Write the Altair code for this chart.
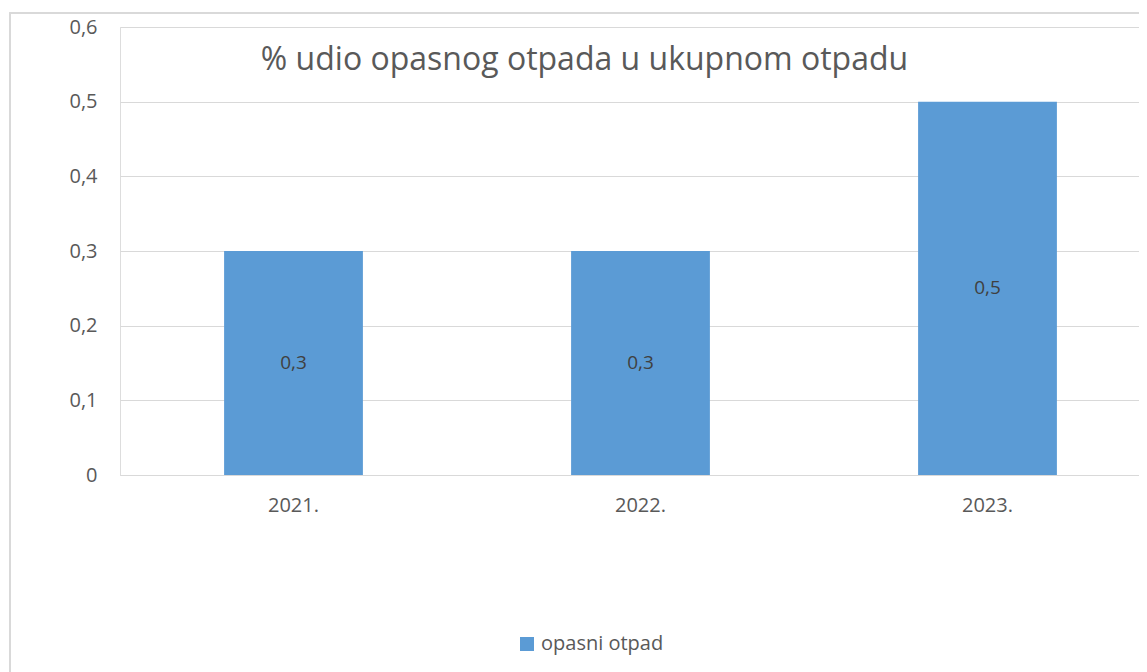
import altair as alt
import pandas as pd

years = ["2021.", "2022.", "2023."]
values = [0.3, 0.3, 0.5]
series = ["opasni otpad", "opasni otpad", "opasni otpad"]

df = pd.DataFrame({"year": years, "value": values, "series": series})

FONT = "Open Sans"
GRAY = "#595959"

x_enc = alt.X(
    "year:N",
    sort=years,
    scale=alt.Scale(paddingInner=0.6, paddingOuter=0.3, range=[0, 1041]),
    axis=alt.Axis(
        title=None, labelAngle=0, ticks=False, domain=True, domainColor="#d9d9d9",
        labelPadding=20, labelFontSize=20, labelColor=GRAY, labelFont=FONT, grid=False,
    ),
)

base = alt.Chart(df)

bars = base.mark_bar(color="#5B9BD5").encode(
    x=x_enc,
    y=alt.Y(
        "value:Q",
        scale=alt.Scale(domain=[0, 0.6], nice=False),
        axis=alt.Axis(
            title=None, values=[0, 0.1, 0.2, 0.3, 0.4, 0.5, 0.6], ticks=False, domain=False,
            gridColor="#d9d9d9", gridWidth=1, labelPadding=23, labelFontSize=20,
            labelColor=GRAY, labelFont=FONT,
            labelExpr="datum.value == 0 ? '0' : replace(format(datum.value, '.1f'), '.', ',')",
        ),
    ),
    color=alt.Color(
        "series:N",
        scale=alt.Scale(range=["#5B9BD5"]),
        legend=alt.Legend(
            title=None, orient="none", legendX=397, legendY=607, symbolType="square",
            symbolSize=196, symbolStrokeWidth=0, labelFontSize=20, labelColor=GRAY,
            labelFont=FONT, labelOffset=4,
        ),
    ),
)

labels = base.transform_calculate(
    mid="datum.value / 2",
    txt="replace(format(datum.value, '.1f'), '.', ',')",
).mark_text(font=FONT, fontSize=19, color="#404040", baseline="middle").encode(
    x=alt.X("year:N", sort=years),
    y=alt.Y("mid:Q"),
    text="txt:N",
)

border = base.mark_rect(fill=None, stroke="#d9d9d9", strokeWidth=1.5).encode(
    x=alt.value(-110), x2=alt.value(1300), y=alt.value(-14), y2=alt.value(900)
)

chart = (
    alt.layer(bars, labels, border)
    .properties(
        width=1019,
        height=448,
        autosize=alt.AutoSizeParams(type="none"),
        padding={"left": 112, "top": 19, "right": 0, "bottom": 197},
        title=alt.TitleParams(
            "% udio opasnog otpada u ukupnom otpadu",
            font=FONT, fontSize=32, fontWeight="normal", color=GRAY,
            anchor="middle", frame="group", orient="top", offset=0,
            baseline="alphabetic", dx=-45, dy=90,
        ),
    )
    .configure_view(stroke=None)
    .configure(background="white")
)

chart.save("out.html", embed_options={"renderer": "svg", "actions": False})
